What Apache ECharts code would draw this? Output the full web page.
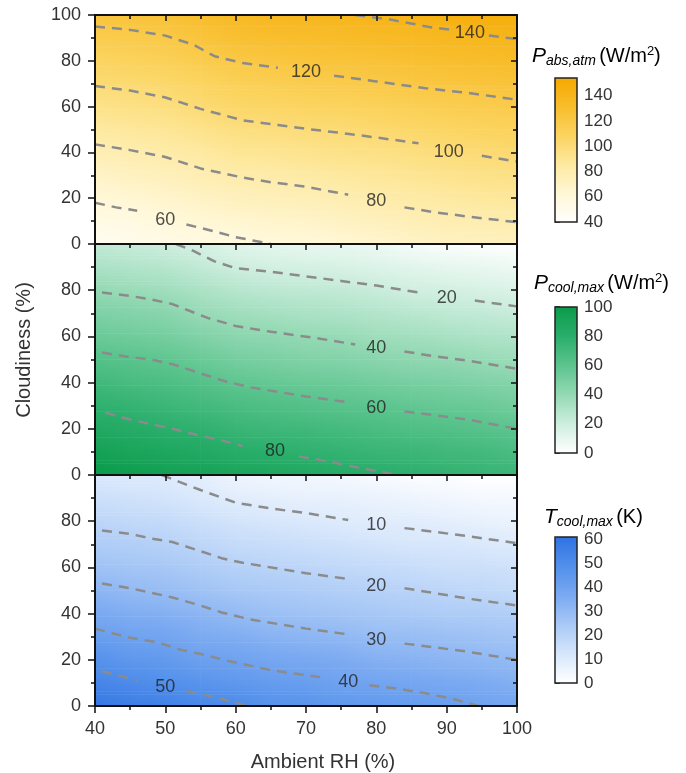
<!DOCTYPE html>
<html>
<head>
<meta charset="utf-8">
<script src="https://cdn.jsdelivr.net/npm/echarts@6/dist/echarts.min.js"></script>
<style>
  html, body { margin: 0; padding: 0; background: #fff; }
  #chart { width: 686px; height: 773px; }
</style>
</head>
<body>
<div id="chart"></div>
<script>
  // grid of read values: one row per RH column, values for cloudiness 0,10,...,100
  const rhCols = [40, 45, 50, 55, 60, 65, 70, 75, 80, 85, 90, 95, 100];
  const cloudRows = [0, 10, 20, 30, 40, 50, 60, 70, 80, 90, 100];

  const absAtm = [
    [46, 54, 62, 69, 77, 85, 93, 101, 108, 116, 124],
    [49, 56, 64, 72, 79, 87, 95, 102, 110, 117, 125],
    [53, 60, 67, 74, 82, 89, 97, 104, 112, 119, 127],
    [55, 63, 70, 78, 85, 93, 101, 108, 116, 124, 131],
    [58, 65, 73, 81, 89, 97, 105, 112, 120, 128, 135],
    [60, 67, 75, 82, 90, 98, 106, 114, 122, 130, 138],
    [61, 68, 76, 84, 92, 100, 108, 116, 124, 131, 139],
    [63, 71, 78, 86, 94, 101, 109, 117, 125, 132, 140],
    [66, 73, 81, 88, 95, 103, 111, 119, 126, 134, 141],
    [69, 76, 83, 90, 97, 105, 113, 121, 128, 135, 143],
    [71, 78, 85, 92, 99, 107, 115, 122, 130, 137, 145],
    [72, 79, 87, 94, 101, 109, 116, 124, 131, 139, 147],
    [73, 80, 88, 95, 103, 110, 118, 125, 133, 140, 148]
  ];
  const coolMax = [
    [100, 94, 86, 78, 71, 63, 55, 48, 40, 32, 24],
    [98, 90, 83, 76, 68, 61, 53, 46, 38, 30, 22],
    [95, 88, 80, 73, 66, 59, 51, 44, 36, 28, 20],
    [93, 85, 78, 70, 63, 55, 47, 39, 32, 24, 17],
    [90, 82, 74, 67, 59, 51, 43, 36, 28, 20, 12],
    [88, 80, 72, 65, 57, 49, 42, 34, 26, 18, 11],
    [86, 78, 71, 63, 55, 47, 40, 32, 25, 17, 9],
    [83, 76, 69, 61, 54, 46, 39, 31, 24, 16, 9],
    [81, 74, 67, 60, 52, 44, 36, 29, 22, 14, 7],
    [79, 73, 65, 58, 50, 42, 35, 27, 19, 12, 4],
    [77, 71, 64, 56, 49, 41, 33, 25, 18, 10, 2],
    [75, 70, 62, 55, 47, 39, 31, 24, 16, 9, 1],
    [73, 67, 60, 52, 45, 37, 30, 22, 15, 7, 0]
  ];
  const tCool = [
    [59, 53, 48, 42, 37, 32, 27, 23, 19, 15, 11],
    [56, 51, 45, 40, 35, 30, 26, 22, 18, 14, 10],
    [55, 49, 44, 39, 34, 29, 25, 21, 17, 13, 10],
    [52, 47, 41, 36, 32, 27, 23, 19, 15, 11, 8],
    [51, 45, 40, 35, 30, 25, 21, 17, 13, 9, 5],
    [48, 43, 38, 33, 28, 24, 20, 16, 12, 8, 4],
    [47, 42, 37, 32, 27, 23, 19, 15, 11, 7, 4],
    [45, 40, 36, 31, 26, 22, 18, 14, 10, 7, 3],
    [44, 39, 34, 29, 25, 21, 17, 13, 9, 6, 2],
    [43, 38, 33, 29, 24, 20, 16, 12, 9, 5, 1],
    [42, 37, 32, 28, 23, 19, 15, 12, 8, 4, 1],
    [40, 36, 31, 27, 23, 18, 15, 11, 7, 3, 0],
    [39, 34, 30, 26, 22, 17, 14, 10, 6, 3, 0]
  ];

  // contour lines, [RH, cloudiness]; each split in two where its label sits
  const absLines = [
    [[[77, 100], [82, 98], [88, 94.5], [91, 93.5]], [[96, 91], [100, 89.5]]],
    [[[40, 95], [45, 93.5], [50, 91], [54, 87], [57, 82], [61, 79], [66, 77]],
     [[74, 73.5], [80, 71], [87, 68], [93, 66], [100, 63]]],
    [[[40, 69], [45, 67], [50, 64], [55, 59], [61, 54], [66, 52], [70, 50.3], [75, 48.5], [80, 46.5], [86, 44]],
     [[95, 38.5], [100, 36]]],
    [[[40, 43.5], [45, 41], [50, 38], [55, 33], [61, 29], [65, 27], [70, 25], [76, 21.5]],
     [[84, 16], [88, 14], [93, 12], [100, 9.5]]],
    [[[40, 18], [43, 16], [46, 14.5]], [[53, 8.5], [57, 5.5], [60, 3], [65, 0]]]
  ];
  const absLabels = [[93.3, 92, '140'], [70, 75, '120'], [90.3, 40, '100'], [80, 18.7, '80'], [50, 10.4, '60']];

  const coolLines = [
    [[[51.5, 100], [54, 97], [57, 92.5], [60, 89.5], [65, 88], [70, 86], [75, 84], [80, 82], [86, 79]],
     [[94, 75.5], [100, 73]]],
    [[[41, 79], [45, 77.5], [48, 76], [51, 74], [56, 68], [60, 64.5], [65, 62], [72, 59], [77, 56.5]],
     [[84, 53.5], [88, 51.5], [93, 49.5], [100, 46]]],
    [[[41, 53], [45, 51], [48, 50], [51, 48], [55, 44], [58, 41], [62, 38], [66, 36], [70, 34], [76, 31.5]],
     [[84, 27.5], [88, 26], [93, 24], [100, 20]]],
    [[[41.5, 27], [45, 24], [51, 20], [55, 17], [58, 15], [61, 12.5]],
     [[69, 8], [73, 6], [77, 3.5], [83, 0]]]
  ];
  const coolLabels = [[90, 76.8, '20'], [80, 54.8, '40'], [80, 28.9, '60'], [65.6, 10.4, '80']];

  const tLines = [
    [[[49.5, 100], [52, 97], [55, 93.5], [60, 88], [65, 85.5], [70, 83.5], [76, 80.5]],
     [[84, 77], [88, 75.5], [93, 73.5], [100, 70.5]]],
    [[[41, 76], [45, 74.5], [48, 72.5], [51, 71], [55, 67], [58, 64], [61, 62], [66, 59.5], [70, 57.5], [76, 55]],
     [[84, 51], [88, 49], [93, 46.5], [100, 43.5]]],
    [[[41, 53], [45, 51], [48, 49], [51, 47], [55, 43.5], [58, 40.5], [62, 37.5], [66, 35.5], [70, 33.5], [76, 31]],
     [[84, 27], [88, 25.5], [93, 23.5], [100, 20]]],
    [[[40, 33.5], [45, 29.5], [49, 27.5], [52, 24.5], [55, 22.5], [59, 19.5], [65, 15.5], [72, 12.5]],
     [[79, 9], [83, 7.5], [87, 5.5], [91, 3], [94.5, 0]]],
    [[[41, 15], [43, 13.5], [46, 11]], [[53, 6.5], [56, 4.5], [60, 1.5], [61.5, 0]]]
  ];
  const tLabels = [[80, 78.4, '10'], [80, 52, '20'], [80, 28.6, '30'], [76, 10.5, '40'], [50, 8.4, '50']];

  const font = 'Liberation Sans, Arial, sans-serif';
  const panels = [
    { values: absAtm, lines: absLines, labels: absLabels, top: 15, height: 229, min: 40, max: 154, interval: 20,
      colors: ['#fffffd', '#fff7d6', '#fde9a0', '#fbd460', '#f8bd2c', '#f5a900'], bar: [78, 144] },
    { values: coolMax, lines: coolLines, labels: coolLabels, top: 244, height: 231, min: 0, max: 100, interval: 20,
      colors: ['#ffffff', '#cdeede', '#94d9b4', '#5cc48e', '#2aae6b', '#0a9b4b'], bar: [307, 146] },
    { values: tCool, lines: tLines, labels: tLabels, top: 475, height: 231, min: 0, max: 61, interval: 10,
      colors: ['#ffffff', '#d6e6fb', '#a9c9f6', '#7aa9f1', '#5290eb', '#2f72e3'], bar: [537, 146] }
  ];

  // same piecewise-linear colour ramp that the visualMap bar uses
  function rampColor(pn, v) {
    const cs = pn.colors;
    let t = (v - pn.min) / (pn.max - pn.min);
    t = Math.max(0, Math.min(1, t)) * (cs.length - 1);
    const k = Math.min(cs.length - 2, Math.floor(t));
    const f = t - k;
    const a = cs[k], b = cs[k + 1];
    const ch = (s, o) => parseInt(s.substr(o, 2), 16);
    const mix = o => Math.round(ch(a, o) + (ch(b, o) - ch(a, o)) * f);
    return 'rgb(' + mix(1) + ',' + mix(3) + ',' + mix(5) + ')';
  }

  // each grid point owns the cell up to the next column / row; shaded between its corners
  function makeRender(pn) {
    const V = pn.values;
    const nc = cloudRows.length;
    return function (params, api) {
      const a = Math.floor(params.dataIndex / nc), b = params.dataIndex % nc;
      if (a >= rhCols.length - 1 || b >= nc - 1) return null;
      const p0 = api.coord([rhCols[a], cloudRows[b]]);
      const p1 = api.coord([rhCols[a + 1], cloudRows[b + 1]]);
      const w = p1[0] - p0[0], h = p0[1] - p1[1];
      const strips = 8, children = [];
      for (let k = 0; k < strips; k++) {
        const t = (k + 0.5) / strips;
        const vl = V[a][b] + (V[a][b + 1] - V[a][b]) * t;
        const vr = V[a + 1][b] + (V[a + 1][b + 1] - V[a + 1][b]) * t;
        children.push({
          type: 'rect',
          shape: { x: p0[0] - 0.3, y: p0[1] - (k + 1) * h / strips - 0.3, width: w + 0.6, height: h / strips + 0.6 },
          style: {
            fill: {
              type: 'linear', x: 0, y: 0, x2: 1, y2: 0,
              colorStops: [
                { offset: 0, color: rampColor(pn, vl) },
                { offset: 0.5, color: rampColor(pn, (vl + vr) / 2) },
                { offset: 1, color: rampColor(pn, vr) }
              ]
            }
          }
        });
      }
      return { type: 'group', children: children };
    };
  }

  const axisLine = { show: true, onZero: false, lineStyle: { color: '#111', width: 2 } };
  const tickStyle = { color: '#111', width: 1.5 };
  const grid = [], xAxis = [], yAxis = [], series = [], visualMap = [];
  const lineSeries = [], labelSeries = [];

  // main panels: grids 0-2, x axes 0-5, y axes 0-5
  panels.forEach((pn, i) => {
    grid.push({ left: 95, width: 422, top: pn.top, height: pn.height });
    const last = i === 2;
    xAxis.push({
      gridIndex: i, type: 'value', min: 40, max: 100, interval: 10, position: 'bottom', z: 5,
      axisLine: axisLine,
      axisTick: { show: last, inside: false, length: 7, lineStyle: tickStyle },
      minorTick: { show: last, splitNumber: 2, length: 4, lineStyle: tickStyle },
      axisLabel: { show: last, fontSize: 18, color: '#333', fontFamily: font, margin: 14 },
      splitLine: { show: false }
    });
    xAxis.push({
      gridIndex: i, type: 'value', min: 40, max: 100, interval: 10, position: 'top', z: 5,
      axisLine: axisLine,
      axisTick: { show: true, inside: true, length: 6, lineStyle: tickStyle },
      minorTick: { show: true, splitNumber: 2, length: 4, lineStyle: tickStyle },
      axisLabel: { show: false }, splitLine: { show: false }
    });
    yAxis.push({
      gridIndex: i, type: 'value', min: 0, max: 100, interval: 20, position: 'left', z: 5,
      axisLine: axisLine,
      axisTick: { show: true, inside: false, length: 7, lineStyle: tickStyle },
      minorTick: { show: true, splitNumber: 2, length: 4, lineStyle: tickStyle },
      axisLabel: {
        fontSize: 18, color: '#333', fontFamily: font, margin: 14,
        formatter: v => (i > 0 && v === 100) ? '' : String(v)
      },
      splitLine: { show: false }
    });
    yAxis.push({
      gridIndex: i, type: 'value', min: 0, max: 100, interval: 20, position: 'right', z: 5,
      axisLine: axisLine,
      axisTick: { show: true, inside: true, length: 6, lineStyle: tickStyle },
      minorTick: { show: true, splitNumber: 2, length: 4, lineStyle: tickStyle },
      axisLabel: { show: false }, splitLine: { show: false }
    });

    const data = [];
    rhCols.forEach((rh, a) => {
      cloudRows.forEach((c, b) => data.push([rh, c, pn.values[a][b]]));
    });
    series.push({
      type: 'custom', xAxisIndex: 2 * i, yAxisIndex: 2 * i, clip: true, z: 1,
      renderItem: makeRender(pn), encode: { x: 0, y: 1 }, data: data, silent: true
    });

    pn.lines.forEach(contour => contour.forEach(seg => {
      lineSeries.push({
        type: 'line', xAxisIndex: 2 * i, yAxisIndex: 2 * i, data: seg, showSymbol: false, silent: true, z: 3,
        lineStyle: { color: '#8b8b8b', width: 2.5, type: [10, 7] }
      });
    }));
    labelSeries.push({
      type: 'scatter', xAxisIndex: 2 * i, yAxisIndex: 2 * i, data: pn.labels, symbolSize: 1, silent: true, z: 4,
      itemStyle: { color: 'transparent' },
      label: { show: true, position: 'inside', formatter: p => p.value[2], fontSize: 18, color: '#222', fontFamily: font }
    });
  });

  // colour bars: grids 3-5, x axes 6-8, y axes 6-8
  panels.forEach((pn, i) => {
    visualMap.push({
      type: 'continuous', seriesIndex: i, dimension: 2, min: pn.min, max: pn.max,
      inRange: { color: pn.colors }, calculable: false, hoverLink: false, padding: 0,
      itemWidth: 22, itemHeight: pn.bar[1], left: 555, top: pn.bar[0], text: null, showLabel: false
    });
    grid.push({ left: 555, width: 22, top: pn.bar[0], height: pn.bar[1], show: true, z: 10,
      borderColor: '#222', borderWidth: 1.5, backgroundColor: 'transparent' });
    xAxis.push({ gridIndex: 3 + i, type: 'value', min: 0, max: 1, show: false });
    yAxis.push({
      gridIndex: 3 + i, type: 'value', min: pn.min, max: pn.max, interval: pn.interval, position: 'right',
      axisLine: { show: false },
      axisTick: { show: true, inside: false, length: 5, lineStyle: tickStyle },
      axisLabel: { fontSize: 17, color: '#333', fontFamily: font, margin: 7, showMaxLabel: pn.max % pn.interval === 0 },
      splitLine: { show: false }
    });
  });

  const titleRich = {
    p: { fontSize: 21, fontStyle: 'italic', fontFamily: font, color: '#222' },
    s: { fontSize: 14, fontStyle: 'italic', fontFamily: font, color: '#222', padding: [10, 0, 0, 0] },
    u: { fontSize: 20, fontFamily: font, color: '#222' },
    sup: { fontSize: 13, fontFamily: font, color: '#222', padding: [0, 0, 10, 0] }
  };

  const chart = echarts.init(document.getElementById('chart'));
  chart.setOption({
    animation: false,
    grid: grid, xAxis: xAxis, yAxis: yAxis, visualMap: visualMap,
    series: series.concat(lineSeries, labelSeries),
    graphic: [
      { type: 'text', x: 323, y: 762, style: { text: 'Ambient RH (%)', font: '20px ' + font, fill: '#333', textAlign: 'center', textVerticalAlign: 'middle' } },
      { type: 'text', x: 24, y: 350, rotation: Math.PI / 2, style: { text: 'Cloudiness (%)', font: '20px ' + font, fill: '#333', textAlign: 'center', textVerticalAlign: 'middle' } },
      { type: 'text', x: 532, y: 56, style: { text: '{p|P}{s|abs,atm} {u|(W/m}{sup|2}{u|)}', rich: titleRich, textVerticalAlign: 'middle' } },
      { type: 'text', x: 534, y: 283, style: { text: '{p|P}{s|cool,max} {u|(W/m}{sup|2}{u|)}', rich: titleRich, textVerticalAlign: 'middle' } },
      { type: 'text', x: 544, y: 517, style: { text: '{p|T}{s|cool,max} {u|(K)}', rich: titleRich, textVerticalAlign: 'middle' } }
    ]
  });
</script>
</body>
</html>
